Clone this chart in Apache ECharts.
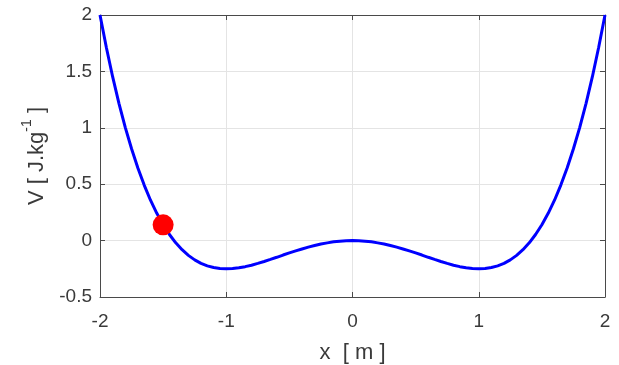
<!DOCTYPE html>
<html><head><meta charset="utf-8">
<script src="https://cdn.jsdelivr.net/npm/echarts@6/dist/echarts.min.js"></script>
<style>html,body{margin:0;padding:0;background:#fff}#c{width:619px;height:365px}</style>
</head><body><div id="c"></div>
<script>
const xValues = [-2,-1.95,-1.9,-1.85,-1.8,-1.75,-1.7,-1.65,-1.6,-1.55,-1.5,-1.45,-1.4,-1.35,-1.3,-1.25,-1.2,-1.15,-1.1,-1.05,-1,-0.95,-0.9,-0.85,-0.8,-0.75,-0.7,-0.65,-0.6,-0.55,-0.5,-0.45,-0.4,-0.35,-0.3,-0.25,-0.2,-0.15,-0.1,-0.05,0,0.05,0.1,0.15,0.2,0.25,0.3,0.35,0.4,0.45,0.5,0.55,0.6,0.65,0.7,0.75,0.8,0.85,0.9,0.95,1,1.05,1.1,1.15,1.2,1.25,1.3,1.35,1.4,1.45,1.5,1.55,1.6,1.65,1.7,1.75,1.8,1.85,1.9,1.95,2];
const vValues = [2,1.714,1.453,1.217,1.004,0.814,0.643,0.492,0.358,0.242,0.141,0.054,-0.020,-0.081,-0.131,-0.171,-0.202,-0.224,-0.239,-0.247,-0.25,-0.248,-0.241,-0.231,-0.218,-0.202,-0.185,-0.167,-0.148,-0.128,-0.109,-0.091,-0.074,-0.058,-0.043,-0.030,-0.020,-0.011,-0.005,-0.001,0,-0.001,-0.005,-0.011,-0.020,-0.030,-0.043,-0.058,-0.074,-0.091,-0.109,-0.128,-0.148,-0.167,-0.185,-0.202,-0.218,-0.231,-0.241,-0.248,-0.25,-0.247,-0.239,-0.224,-0.202,-0.171,-0.131,-0.081,-0.020,0.054,0.141,0.242,0.358,0.492,0.643,0.814,1.004,1.217,1.453,1.714,2];
const ballX = [-1.5];
const ballV = [0.14];
const xTicks = [-2,-1,0,1,2];
const yTicks = [-0.5,0,0.5,1,1.5,2];

const axisColor = '#4a4a4a';
const textColor = '#3a3a3a';
const fontFamily = 'Liberation Sans, Arial, sans-serif';
const chart = echarts.init(document.getElementById('c'));
const common = {
  axisLine: {show: true, onZero: false, lineStyle: {color: axisColor, width: 1}},
  axisTick: {show: true, inside: true, length: 5, lineStyle: {color: axisColor}},
};
chart.setOption({
  animation: false,
  backgroundColor: '#fff',
  grid: {left: 100, right: 14, top: 15, bottom: 68, containLabel: false, outerBoundsMode: 'none'},
  xAxis: [
    Object.assign({
      type: 'value', min: xTicks[0], max: xTicks[xTicks.length-1], interval: 1,
      axisLabel: {color: textColor, fontSize: 19, fontFamily, margin: 15},
      splitLine: {show: true, lineStyle: {color: '#e4e4e4', width: 1}},
      name: 'x  [ m ]', nameLocation: 'middle', nameGap: 45,
      nameTextStyle: {color: textColor, fontSize: 22, fontFamily}
    }, common),
    Object.assign({
      type: 'value', position: 'top', min: -2, max: 2, interval: 1,
      axisLabel: {show: false}, splitLine: {show: false}
    }, common)
  ],
  yAxis: [
    Object.assign({
      type: 'value', min: yTicks[0], max: yTicks[yTicks.length-1], interval: 0.5,
      axisLabel: {color: textColor, fontSize: 19, fontFamily, margin: 8},
      splitLine: {show: true, lineStyle: {color: '#e4e4e4', width: 1}},
      name: '{n|V [ J.kg}{s|-1}{n| ]}', nameLocation: 'middle', nameGap: 46,
      nameTextStyle: {color: textColor, fontSize: 22, fontFamily,
        rich: {
          n: {fontSize: 22, fontFamily, color: textColor, lineHeight: 28, verticalAlign: 'bottom'},
          s: {fontSize: 14, fontFamily, color: textColor, lineHeight: 28, verticalAlign: 'top'}
        }}
    }, common),
    Object.assign({
      type: 'value', position: 'right', min: -0.5, max: 2, interval: 0.5,
      axisLabel: {show: false}, splitLine: {show: false}
    }, common)
  ],
  series: [
    {
      type: 'line', xAxisIndex: 0, yAxisIndex: 0,
      data: xValues.map((x, i) => [x, vValues[i]]),
      showSymbol: false, symbol: 'none', smooth: false,
      lineStyle: {color: '#0000ff', width: 3}, z: 3
    },
    {
      type: 'scatter', xAxisIndex: 0, yAxisIndex: 0,
      data: ballX.map((x, i) => [x, ballV[i]]),
      symbol: 'circle', symbolSize: 21,
      itemStyle: {color: '#ff0000', opacity: 1}, z: 4
    }
  ]
});
</script></body></html>
